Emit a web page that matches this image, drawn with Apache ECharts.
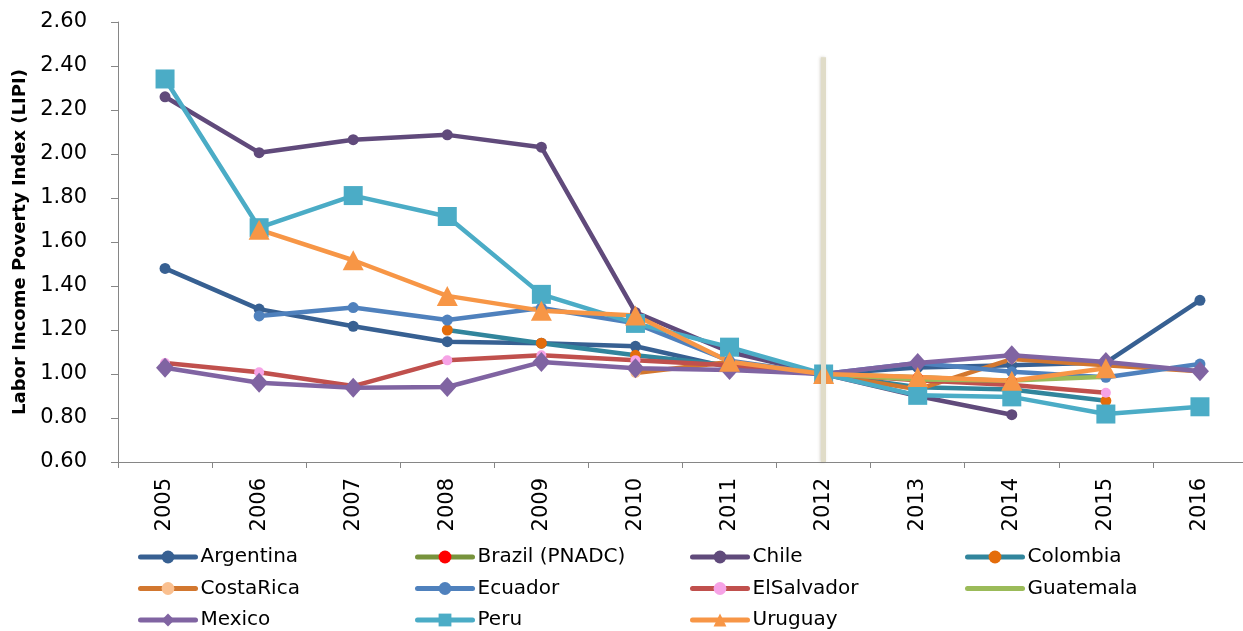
<!DOCTYPE html>
<html>
<head>
<meta charset="utf-8">
<script src="https://cdn.jsdelivr.net/npm/echarts@6/dist/echarts.min.js"></script>
<style>
  html, body { margin: 0; padding: 0; background: #ffffff; }
  #chart { width: 1243px; height: 631px; }
</style>
</head>
<body>
<div id="chart"></div>
<script>
// Labor Income Poverty Index by country, 2012 = 1.00
const years = ['2005', '2006', '2007', '2008', '2009', '2010', '2011', '2012', '2013', '2014', '2015', '2016'];

const argentina  = [1.48, 1.295, 1.217, 1.147, 1.14, 1.126, 1.03, 1.00, 1.03, 1.04, 1.052, 1.335];
const brazil     = [null, null, null, null, null, null, null, 1.00, 0.985, 0.968, null, null];
const chile      = [2.26, 2.006, 2.065, 2.087, 2.031, 1.28, 1.10, 1.00, 0.90, 0.815, null, null];
const colombia   = [null, null, null, 1.20, 1.14, 1.085, 1.04, 1.00, 0.94, 0.93, 0.878, null];
const costaRica  = [null, null, null, null, null, 1.005, 1.055, 1.00, 0.93, 1.068, 1.04, 1.012];
const ecuador    = [null, 1.264, 1.302, 1.245, 1.30, 1.23, 1.06, 1.00, 1.05, 1.01, 0.985, 1.045];
const elSalvador = [1.05, 1.008, 0.945, 1.062, 1.085, 1.063, 1.04, 1.00, 0.972, 0.95, 0.915, null];
const guatemala  = [null, null, null, null, null, null, null, 1.00, 0.975, 0.97, 0.988, null];
const mexico     = [1.028, 0.96, 0.937, 0.941, 1.054, 1.026, 1.018, 1.00, 1.05, 1.085, 1.055, 1.013];
const peru       = [2.341, 1.665, 1.811, 1.716, 1.362, 1.23, 1.122, 1.00, 0.903, 0.896, 0.818, 0.851];
const uruguay    = [null, 1.656, 1.517, 1.355, 1.288, 1.266, 1.056, 1.00, 0.986, 0.969, 1.026, null];

// Value axis range and step
const yMin = 0.6;
const yMax = 2.6;
const yStep = 0.2;

// Base-year reference line
const baseYear = '2012';
const baseLineTop = 2.44;

// Legend columns (row-major reading order across four columns)
const legendColumns = [
  ['Argentina', 'CostaRica', 'Mexico'],
  ['Brazil (PNADC)', 'Ecuador', 'Peru'],
  ['Chile', 'ElSalvador', 'Uruguay'],
  ['Colombia', 'Guatemala']
];
const legendLefts = [138, 415, 690, 965];
const noMarkerInLegend = ['Guatemala'];

const FONT = 'DejaVu Sans';

function lineSeries(name, data, lineColor, symbol, symbolSize, markerColor) {
  return {
    name: name,
    type: 'line',
    data: data,
    z: 2,
    symbol: symbol,
    symbolSize: symbolSize,
    showSymbol: symbol !== 'none',
    connectNulls: false,
    lineStyle: { color: lineColor, width: 4.5, cap: 'round', join: 'round' },
    itemStyle: { color: markerColor, borderWidth: 0 },
    emphasis: { disabled: true }
  };
}

const series = [
  lineSeries('Argentina', argentina, '#376092', 'circle', 11, '#376092'),
  lineSeries('Brazil (PNADC)', brazil, '#77933c', 'circle', 10, '#ff0000'),
  lineSeries('Chile', chile, '#604a7b', 'circle', 11, '#604a7b'),
  lineSeries('Colombia', colombia, '#31859c', 'circle', 11, '#e46c0a'),
  lineSeries('CostaRica', costaRica, '#d2772f', 'circle', 10, '#fac090'),
  lineSeries('Ecuador', ecuador, '#4f81bd', 'circle', 11, '#4f81bd'),
  lineSeries('ElSalvador', elSalvador, '#c0504d', 'circle', 10, '#f6a3e6'),
  lineSeries('Guatemala', guatemala, '#9bbb59', 'none', 0, '#9bbb59'),
  lineSeries('Mexico', mexico, '#8064a2', 'diamond', [18, 20], '#8064a2'),
  lineSeries('Peru', peru, '#4bacc6', 'rect', 19, '#4bacc6'),
  lineSeries('Uruguay', uruguay, '#f79646', 'triangle', [21, 20], '#f79646'),
  {
    name: 'base',
    type: 'line',
    data: [],
    z: 5,
    silent: true,
    markLine: {
      silent: true,
      symbol: ['none', 'none'],
      label: { show: false },
      animation: false,
      lineStyle: {
        type: 'solid',
        color: '#e0dcc8',
        width: 5,
        shadowBlur: 3,
        shadowColor: 'rgba(120,110,80,0.3)',
        shadowOffsetX: -1
      },
      data: [[
        { coord: [baseYear, yMin] },
        { coord: [baseYear, baseLineTop] }
      ]]
    }
  }
];

const legends = legendColumns.map(function (names, i) {
  return {
    data: names.map(function (n) {
      return noMarkerInLegend.indexOf(n) >= 0 ? { name: n, itemStyle: { opacity: 0 } } : n;
    }),
    orient: 'vertical',
    left: legendLefts[i],
    top: 547,
    itemWidth: 55,
    itemHeight: 16,
    itemGap: 11.5,
    padding: 0,
    selectedMode: false,
    lineStyle: { width: 5 },
    textStyle: { fontFamily: FONT, fontSize: 20, color: '#000000', lineHeight: 20 }
  };
});

const option = {
  animation: false,
  backgroundColor: '#ffffff',
  grid: { left: 118, right: -4, top: 22, bottom: 169, outerBoundsMode: 'none' },
  legend: legends,
  xAxis: {
    type: 'category',
    data: years,
    boundaryGap: true,
    axisLine: { lineStyle: { color: '#868686', width: 1 } },
    axisTick: { show: true, inside: false, length: 6, alignWithLabel: false, lineStyle: { color: '#868686' } },
    axisLabel: { rotate: 90, margin: 16, fontFamily: FONT, fontSize: 21, color: '#000000', interval: 0 },
    splitLine: { show: false }
  },
  yAxis: {
    type: 'value',
    min: yMin,
    max: yMax,
    interval: yStep,
    name: 'Labor Income Poverty Index (LIPI)',
    nameLocation: 'middle',
    nameGap: 83,
    nameRotate: 90,
    nameTextStyle: { fontFamily: FONT, fontSize: 18, fontWeight: 'bold', color: '#000000' },
    axisLine: { show: true, lineStyle: { color: '#868686', width: 1 } },
    axisTick: { show: true, inside: false, length: 7, lineStyle: { color: '#868686' } },
    axisLabel: {
      margin: 31,
      fontFamily: FONT,
      fontSize: 21,
      color: '#000000',
      formatter: function (v) { return v.toFixed(2); }
    },
    splitLine: { show: false }
  },
  series: series
};

const chart = echarts.init(document.getElementById('chart'), null, { renderer: 'canvas' });
chart.setOption(option);
</script>
</body>
</html>
